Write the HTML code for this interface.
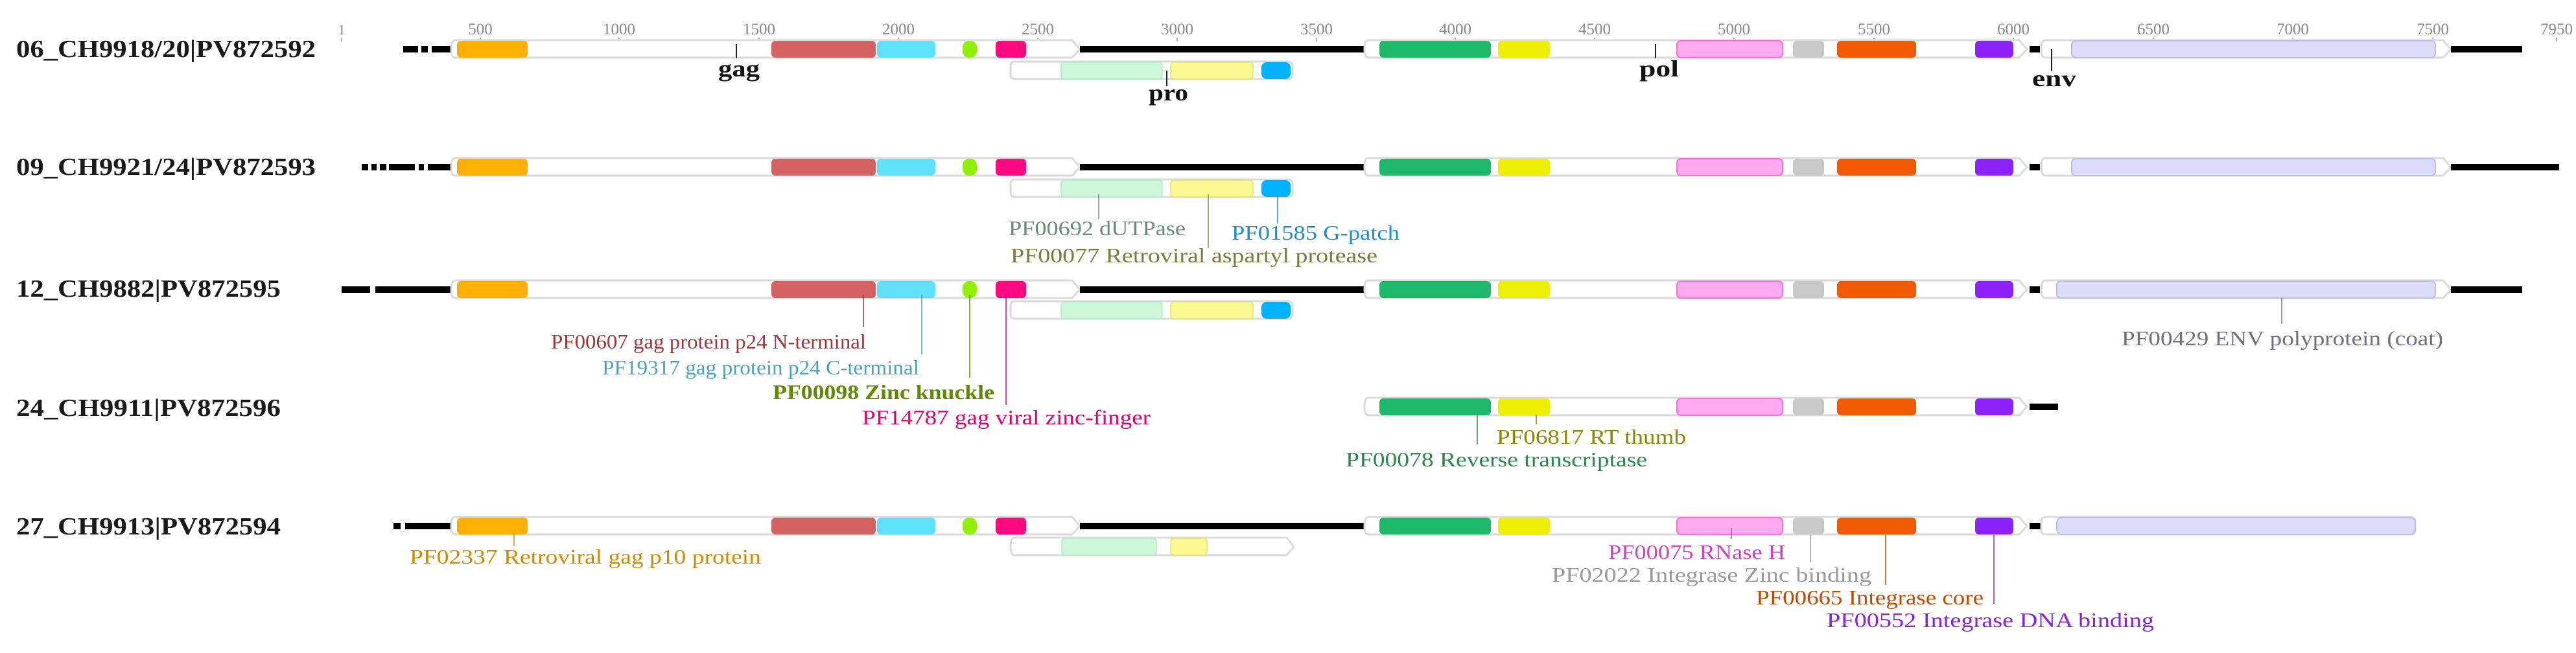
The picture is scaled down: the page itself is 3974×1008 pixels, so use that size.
<!DOCTYPE html>
<html><head><meta charset="utf-8"><style>
html,body{margin:0;padding:0;background:#fff;width:3974px;height:1008px;overflow:hidden}
svg{display:block}
text{font-family:"Liberation Serif",serif}
.t{font-size:38px;fill:#1a1a1a;font-weight:bold}
.k{font-size:25px;fill:#888}
.g{font-size:36px;fill:#111;font-weight:bold}
.a{font-size:32px}
.bx{fill:#fff;stroke:#dadada;stroke-width:3}
</style></head><body>
<svg width="3974" height="1008" viewBox="0 0 3974 1008" xmlns="http://www.w3.org/2000/svg">
<defs>
<g id="gagdom">
 <rect x="705" y="-13" width="109" height="26" rx="6" fill="#ffb000"/>
 <rect x="1190" y="-13" width="161" height="26" rx="6" fill="#d46262"/>
 <rect x="1353" y="-13" width="90" height="26" rx="6" fill="#5fe0fb"/>
 <rect x="1485" y="-13" width="22" height="26" rx="10" fill="#8ff000"/>
 <rect x="1536" y="-13" width="47" height="26" rx="6" fill="#ff0a80"/>
</g>
<g id="poldom">
 <rect x="2128" y="-13" width="172" height="26" rx="6" fill="#1eb86b"/>
 <rect x="2311" y="-13" width="80" height="26" rx="6" fill="#eeee00"/>
 <rect x="2587" y="-13" width="163" height="26" rx="6" fill="#ffaaee" stroke="#ff6ddc" stroke-width="2"/>
 <rect x="2766" y="-13" width="48" height="26" rx="6" fill="#c8c8c8"/>
 <rect x="2834" y="-13" width="122" height="26" rx="6" fill="#f05a00"/>
 <rect x="3047" y="-13" width="59" height="26" rx="6" fill="#8e22ff"/>
</g>
<g id="gagbox"><path class="bx" d="M702,-14 H1654 L1666,0 L1654,13 H702 Q696,13 696,0 Q696,-14 702,-14 Z"/></g>
<g id="polbox"><path class="bx" d="M2111,-14 H3115 L3127,0 L3115,13 H2111 Q2105,13 2105,0 Q2105,-14 2111,-14 Z"/></g>
<g id="envbox"><path class="bx" d="M3155,-14 H3769 L3781,0 L3769,13 H3155 Q3149,13 3149,0 Q3149,-14 3155,-14 Z"/></g>
<g id="sub">
 <rect class="bx" x="1559" y="-14" width="435" height="27" rx="6"/>
 <rect x="1637" y="-13" width="156" height="26" rx="5" fill="#ccf7d8" stroke="#b8e8c4" stroke-width="1.5"/>
 <rect x="1806" y="-13" width="127" height="26" rx="5" fill="#fafa90" stroke="#e8e070" stroke-width="1.5"/>
 <rect x="1946" y="-13" width="45" height="26" rx="8" fill="#00b2ff"/>
</g>
</defs>

<g class="k" text-anchor="middle">
<text x="527" y="53" font-size="22">1</text>
<text x="741" y="53">500</text><text x="955" y="53">1000</text><text x="1171" y="53">1500</text>
<text x="1386" y="53">2000</text><text x="1601" y="53">2500</text><text x="1816" y="53">3000</text>
<text x="2031" y="53">3500</text><text x="2245" y="53">4000</text><text x="2460" y="53">4500</text>
<text x="2675" y="53">5000</text><text x="2891" y="53">5500</text><text x="3106" y="53">6000</text>
<text x="3322" y="53">6500</text><text x="3537" y="53">7000</text><text x="3753" y="53">7500</text>
<text x="3944" y="53">7950</text>
</g>
<g stroke="#999" stroke-width="1.5">
<path d="M527,58v6M741,58v6M955,58v6M1171,58v6M1386,58v6M1601,58v6M1816,58v6M2031,58v6M2245,58v6M2460,58v6M2675,58v6M2891,58v6M3106,58v6M3322,58v6M3537,58v6M3753,58v6M3944,58v6"/>
</g>

<text class="t" x="25" y="88" textLength="462" lengthAdjust="spacingAndGlyphs">06_CH9918/20|PV872592</text>
<text class="t" x="25" y="270" textLength="462" lengthAdjust="spacingAndGlyphs">09_CH9921/24|PV872593</text>
<text class="t" x="25" y="458" textLength="408" lengthAdjust="spacingAndGlyphs">12_CH9882|PV872595</text>
<text class="t" x="25" y="642" textLength="408" lengthAdjust="spacingAndGlyphs">24_CH9911|PV872596</text>
<text class="t" x="25" y="825" textLength="408" lengthAdjust="spacingAndGlyphs">27_CH9913|PV872594</text>

<g transform="translate(0,76)">
 <rect x="622" y="-5" width="23" height="10"/><rect x="650" y="-5" width="10" height="10"/><rect x="666" y="-5" width="29" height="10"/>
 <use href="#gagbox"/><use href="#gagdom"/>
 <rect x="1666" y="-5" width="438" height="10"/>
 <use href="#polbox"/><use href="#poldom"/>
 <rect x="3131" y="-5" width="16" height="10"/>
 <use href="#envbox"/>
 <rect x="3196" y="-13" width="561" height="26" rx="6" fill="#dcdcfb" stroke="#bcbce8" stroke-width="2"/>
 <rect x="3781" y="-5" width="110" height="10"/>
 <g transform="translate(0,33)"><use href="#sub"/></g>
</g>
<g stroke="#222" stroke-width="2"><path d="M1136,68v22M1800,109v24M2554,68v22M3165,76v34"/></g>
<text class="g" x="1108" y="118" textLength="64" lengthAdjust="spacingAndGlyphs">gag</text>
<text class="g" x="1772" y="155" textLength="61" lengthAdjust="spacingAndGlyphs">pro</text>
<text class="g" x="2529" y="118" textLength="61" lengthAdjust="spacingAndGlyphs">pol</text>
<text class="g" x="3135" y="133" textLength="68" lengthAdjust="spacingAndGlyphs">env</text>

<g transform="translate(0,258)">
 <rect x="558" y="-5" width="10" height="10"/><rect x="573" y="-5" width="8" height="10"/><rect x="586" y="-5" width="10" height="10"/><rect x="600" y="-5" width="40" height="10"/><rect x="646" y="-5" width="8" height="10"/><rect x="660" y="-5" width="35" height="10"/>
 <use href="#gagbox"/><use href="#gagdom"/>
 <rect x="1666" y="-5" width="438" height="10"/>
 <use href="#polbox"/><use href="#poldom"/>
 <rect x="3131" y="-5" width="16" height="10"/>
 <use href="#envbox"/>
 <rect x="3196" y="-13" width="561" height="26" rx="6" fill="#dcdcfb" stroke="#bcbce8" stroke-width="2"/>
 <rect x="3781" y="-5" width="167" height="10"/>
 <g transform="translate(0,33)"><use href="#sub"/></g>
</g>
<path d="M1695,300v38" stroke="#6b8a73" stroke-width="1.5"/>
<path d="M1864,300v83" stroke="#8a8a50" stroke-width="1.5"/>
<path d="M1971,300v45" stroke="#1a8fd0" stroke-width="1.5"/>
<text class="a" x="1556" y="363" fill="#6b8a73" textLength="273" lengthAdjust="spacingAndGlyphs">PF00692 dUTPase</text>
<text class="a" x="1900" y="370" fill="#1a8fd0" textLength="259" lengthAdjust="spacingAndGlyphs">PF01585 G-patch</text>
<text class="a" x="1559" y="405" fill="#7e7a3e" textLength="566" lengthAdjust="spacingAndGlyphs">PF00077 Retroviral aspartyl protease</text>

<g transform="translate(0,447)">
 <rect x="527" y="-5" width="44" height="10"/><rect x="579" y="-5" width="116" height="10"/>
 <use href="#gagbox"/><use href="#gagdom"/>
 <rect x="1666" y="-5" width="438" height="10"/>
 <use href="#polbox"/><use href="#poldom"/>
 <rect x="3131" y="-5" width="16" height="10"/>
 <use href="#envbox"/>
 <rect x="3173" y="-13" width="584" height="26" rx="6" fill="#dcdcfb" stroke="#bcbce8" stroke-width="2"/>
 <rect x="3781" y="-5" width="110" height="10"/>
 <g transform="translate(0,32)"><use href="#sub"/></g>
</g>
<path d="M1332,455v50" stroke="#a0373a" stroke-width="1.5"/>
<path d="M1422,455v92" stroke="#4aa3c0" stroke-width="1.5"/>
<path d="M1496,455v128" stroke="#5f8a00" stroke-width="1.5"/>
<path d="M1552,455v170" stroke="#e0006e" stroke-width="1.5"/>
<path d="M3520,460v40" stroke="#6f6f80" stroke-width="1.5"/>
<text class="a" x="850" y="538" fill="#a0373a" textLength="486" lengthAdjust="spacingAndGlyphs">PF00607 gag protein p24 N-terminal</text>
<text class="a" x="929" y="578" fill="#4aa3c0" textLength="489" lengthAdjust="spacingAndGlyphs">PF19317 gag protein p24 C-terminal</text>
<text class="a" x="1192" y="616" fill="#5f8a00" font-weight="bold" textLength="342" lengthAdjust="spacingAndGlyphs">PF00098 Zinc knuckle</text>
<text class="a" x="1330" y="655" fill="#e0006e" textLength="445" lengthAdjust="spacingAndGlyphs">PF14787 gag viral zinc-finger</text>
<text class="a" x="3273" y="533" fill="#6f6f80" textLength="496" lengthAdjust="spacingAndGlyphs">PF00429 ENV polyprotein (coat)</text>

<g transform="translate(0,628)">
 <use href="#polbox"/><use href="#poldom"/>
 <rect x="3131" y="-5" width="44" height="10"/>
</g>
<path d="M2279,640v46" stroke="#2a8a4a" stroke-width="1.5"/>
<path d="M2370,640v15" stroke="#8a8a00" stroke-width="1.5"/>
<text class="a" x="2309" y="685" fill="#8a8a00" textLength="292" lengthAdjust="spacingAndGlyphs">PF06817 RT thumb</text>
<text class="a" x="2076" y="720" fill="#2a8a4a" textLength="465" lengthAdjust="spacingAndGlyphs">PF00078 Reverse transcriptase</text>

<g transform="translate(0,812)">
 <rect x="607" y="-5" width="11" height="10"/><rect x="625" y="-5" width="70" height="10"/>
 <use href="#gagbox"/><use href="#gagdom"/>
 <rect x="1666" y="-5" width="438" height="10"/>
 <use href="#polbox"/><use href="#poldom"/>
 <rect x="3131" y="-5" width="18" height="10"/>
 <rect class="bx" x="3149" y="-14" width="577" height="27" rx="6"/>
 <rect x="3173" y="-13" width="553" height="26" rx="8" fill="#dcdcfb" stroke="#bcbce8" stroke-width="2"/>
 <g transform="translate(0,32)">
  <path class="bx" d="M1565,-14 H1985 L1996,0 L1985,13 H1565 Q1559,13 1559,0 Q1559,-14 1565,-14 Z"/>
  <rect x="1638" y="-13" width="146" height="26" rx="5" fill="#ccf7d8" stroke="#b8e8c4" stroke-width="1.5"/>
  <rect x="1806" y="-13" width="56" height="26" rx="5" fill="#fafa90" stroke="#e8e070" stroke-width="1.5"/>
 </g>
</g>
<path d="M793,822v21" stroke="#d08a00" stroke-width="1.5"/>
<path d="M2671,815v17" stroke="#d040c0" stroke-width="1.5"/>
<path d="M2793,826v42" stroke="#999" stroke-width="1.5"/>
<path d="M2909,826v77" stroke="#c04a00" stroke-width="1.5"/>
<path d="M3076,826v106" stroke="#8a20e0" stroke-width="1.5"/>
<text class="a" x="632" y="870" fill="#d08a00" textLength="542" lengthAdjust="spacingAndGlyphs">PF02337 Retroviral gag p10 protein</text>
<text class="a" x="2481" y="863" fill="#d040c0" textLength="273" lengthAdjust="spacingAndGlyphs">PF00075 RNase H</text>
<text class="a" x="2394" y="898" fill="#999" textLength="493" lengthAdjust="spacingAndGlyphs">PF02022 Integrase Zinc binding</text>
<text class="a" x="2709" y="933" fill="#c04a00" textLength="351" lengthAdjust="spacingAndGlyphs">PF00665 Integrase core</text>
<text class="a" x="2818" y="968" fill="#8a20e0" textLength="505" lengthAdjust="spacingAndGlyphs">PF00552 Integrase DNA binding</text>
</svg>
</body></html>
